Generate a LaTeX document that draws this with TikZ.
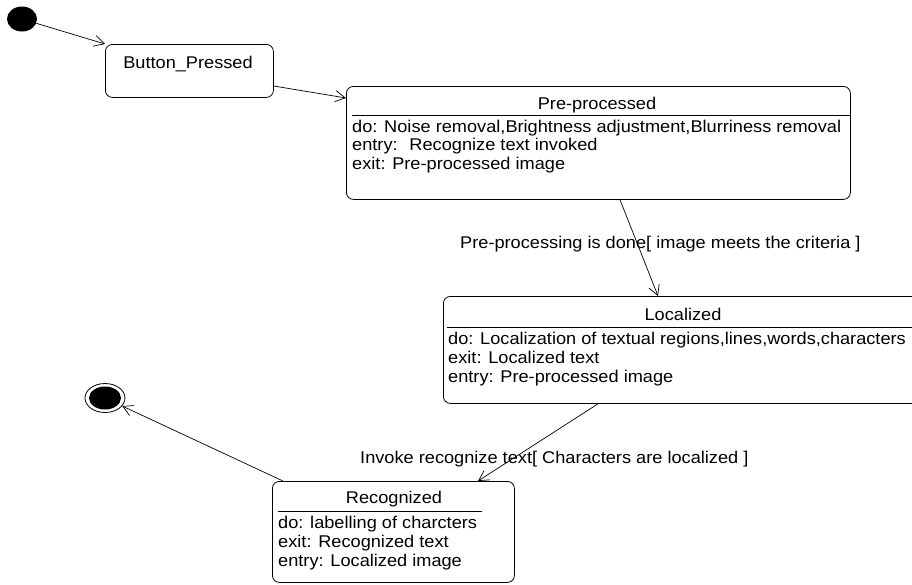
\documentclass[tikz,border=0pt]{standalone}
\usepackage{fontspec}
\setmainfont{Liberation Sans}[FakeStretch=1.07]
\usetikzlibrary{arrows.meta,calc,shapes.geometric}

\begin{document}
\begin{tikzpicture}[x=1pt,y=-1pt,
  statebox/.style={draw, rounded corners=7pt, line width=0.8pt, anchor=north west, inner sep=0pt},
  txt/.style={font=\fontsize{17}{19}\selectfont, inner sep=0pt},
  line/.style={anchor=base west},
  title/.style={anchor=base},
  sep/.style={line width=0.8pt},
  trans/.style={draw, line width=0.7pt, -{Straight Barb[length=10pt,width=11pt,line width=0.7pt]}}
]
\useasboundingbox[fill=white] (0,0) rectangle (912,584);

% pseudo states
\node[ellipse, fill, minimum width=30pt, minimum height=25pt, inner sep=0pt] (init) at (22,19) {};
\node[ellipse, draw, line width=0.8pt, minimum width=40pt, minimum height=29pt, inner sep=0pt] (fin) at (105,398) {};
\node[ellipse, fill, minimum width=32pt, minimum height=23pt, inner sep=0pt] (fincore) at (fin) {};

% Button_Pressed
\node[statebox, minimum width=168pt, minimum height=53pt] (bp) at (105,44) {};
\node[txt, title] (bpname) at (188,68.7) {Button\_Pressed};

% Pre-processed
\node[statebox, minimum width=504pt, minimum height=113pt] (pp) at (346,86) {};
\node[txt, title] (ppname) at (597,109) {Pre-processed};
\draw[sep] ($(pp.north west)+(6,29)$) -- ($(pp.north east)+(0,29)$);
\node[txt, line] (pp1) at (352,132.5) {do: Noise removal,Brightness adjustment,Blurriness removal};
\node[txt, line] (pp2) at (352,150.5) {entry:~ Recognize text invoked};
\node[txt, line] (pp3) at (352,169) {exit: Pre-processed image};

% Localized
\node[statebox, minimum width=480pt, minimum height=107pt] (lz) at (443,296) {};
\node[txt, title] (lzname) at (683,320) {Localized};
\draw[sep] ($(lz.north west)+(4,31)$) -- ($(lz.north east)+(0,31)$);
\node[txt, line] (lz1) at (448,344) {do: Localization of textual regions,lines,words,characters};
\node[txt, line] (lz2) at (448,363) {exit: Localized text};
\node[txt, line] (lz3) at (448,382.5) {entry: Pre-processed image};

% Recognized
\node[statebox, minimum width=242pt, minimum height=101pt] (rc) at (272,481) {};
\node[txt, title] (rcname) at (394,503.5) {Recognized};
\draw[sep] ($(rc.north west)+(6,30.5)$) -- ($(rc.north west)+(210,30.5)$);
\node[txt, line] (rc1) at (278,528) {do: labelling of charcters};
\node[txt, line] (rc2) at (278,547) {exit: Recognized text};
\node[txt, line] (rc3) at (278,566) {entry: Localized image};

% transitions
\draw[trans] (init) -- (bp.north west);
\draw[trans] ($(bp.north east)+(0,42)$) -- ($(pp.north west)+(0,12)$);
\draw[trans] ($(pp.south west)+(274,0)$) -- ($(lz.north west)+(215,0)$);
\node[txt, line] (t1) at (460,248.3) {Pre-processing is done[ image meets the criteria ]};
\draw[trans] ($(lz.south west)+(155,0)$) -- ($(rc.north west)+(206,0)$);
\node[txt, line] (t2) at (360,463.3) {Invoke recognize text[ Characters are localized ]};
\draw[trans] ($(rc.north west)+(11,0)$) -- (fin);
\end{tikzpicture}
\end{document}
